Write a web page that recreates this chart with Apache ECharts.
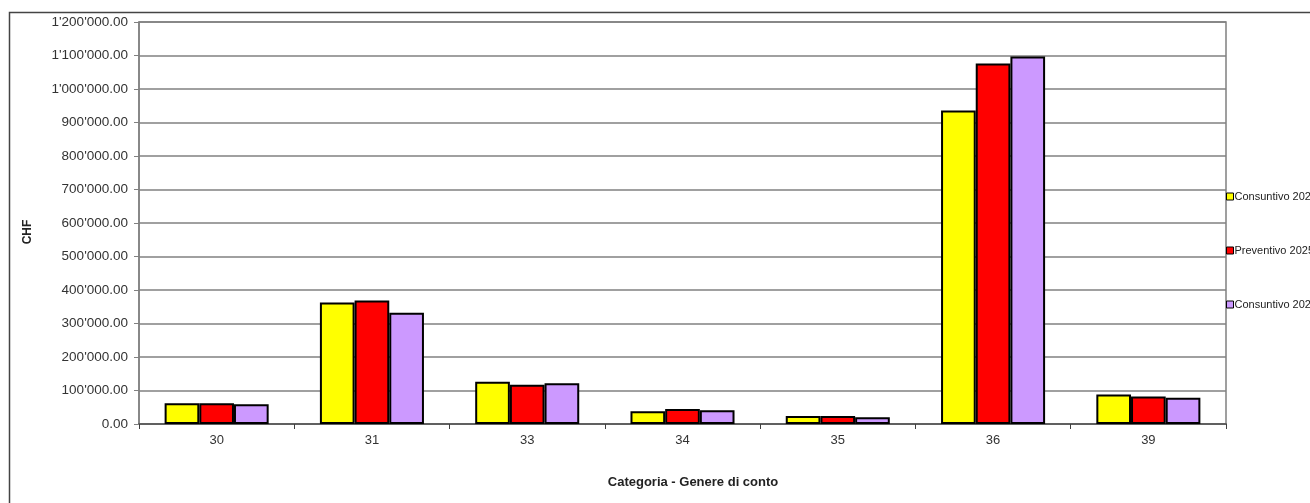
<!DOCTYPE html>
<html><head><meta charset="utf-8">
<script src="https://cdn.jsdelivr.net/npm/echarts@6/dist/echarts.min.js"></script>
<style>html,body{margin:0;padding:0;background:#fff}#c{width:1310px;height:503px}</style>
</head><body><div id="c"></div>
<script>
const categories = ['30','31','33','34','35','36','39'];
const seriesNames = ['Consuntivo 2025','Preventivo 2025','Consuntivo 2024'];
const consuntivo2025 = [62000, 363000, 126000, 38000, 24000, 936000, 88000];
const preventivo2025 = [62000, 369000, 117000, 45000, 24000, 1076000, 82000];
const consuntivo2024 = [59000, 332000, 122000, 41000, 20000, 1097000, 78000];
const xTitle = 'Categoria - Genere di conto';
const yTitle = 'CHF';
const colors = ['#ffff00','#ff0000','#cc99ff'];

function fmt(v){
  const parts = Math.round(v).toString().replace(/\B(?=(\d{3})+(?!\d))/g, "'");
  return parts + '.00';
}
const chart = echarts.init(document.getElementById('c'));
const font = 'Liberation Sans, Arial, sans-serif';
const dataSets = [consuntivo2025, preventivo2025, consuntivo2024];
chart.setOption({
  animation:false,
  textStyle:{fontFamily:font},
  graphic:[
    {type:'rect', z:-1, shape:{x:9.5,y:12.5,width:1400,height:600}, style:{fill:'none',stroke:'#444',lineWidth:1.5}},
    {type:'text', x:693, y:482, style:{text:xTitle, font:'bold 13px Liberation Sans, Arial, sans-serif', fill:'#222', align:'center', verticalAlign:'middle'}},
    {type:'text', x:28, y:232, rotation:Math.PI/2, style:{text:yTitle, font:'bold 12px Liberation Sans, Arial, sans-serif', fill:'#222', align:'center', verticalAlign:'middle'}}
  ],
  grid:{left:139,right:84,top:22,bottom:79,show:true,borderColor:'#808080',borderWidth:1.5},
  legend:{orient:'vertical',left:1226,top:191,padding:0,itemGap:43,itemWidth:7,itemHeight:7,icon:'rect',
    itemStyle:{borderColor:'#000',borderWidth:1},
    textStyle:{fontSize:11,color:'#222',fontFamily:font,padding:[0,0,0,-4]},
    data:seriesNames},
  xAxis:{type:'category',data:categories,
    axisLine:{lineStyle:{color:'#606060',width:2}},
    axisTick:{show:true,length:5,lineStyle:{color:'#404040',width:1}},
    axisLabel:{fontSize:13,color:'#333',margin:10}},
  yAxis:{type:'value',min:0,max:1200000,interval:100000,
    axisLine:{show:true,lineStyle:{color:'#808080',width:1.5}},
    axisTick:{show:true,length:5,lineStyle:{color:'#808080'}},
    splitLine:{lineStyle:{color:'#808080',width:1.5}},
    axisLabel:{fontSize:13.5,color:'#333',margin:11,formatter:fmt}},
  series: seriesNames.map((n,i)=>({
    name:n,type:'bar',data:dataSets[i],barGap:'0%',barCategoryGap:'33%',
    itemStyle:{color:colors[i],borderColor:'#000',borderWidth:2}
  }))
});
</script></body></html>
